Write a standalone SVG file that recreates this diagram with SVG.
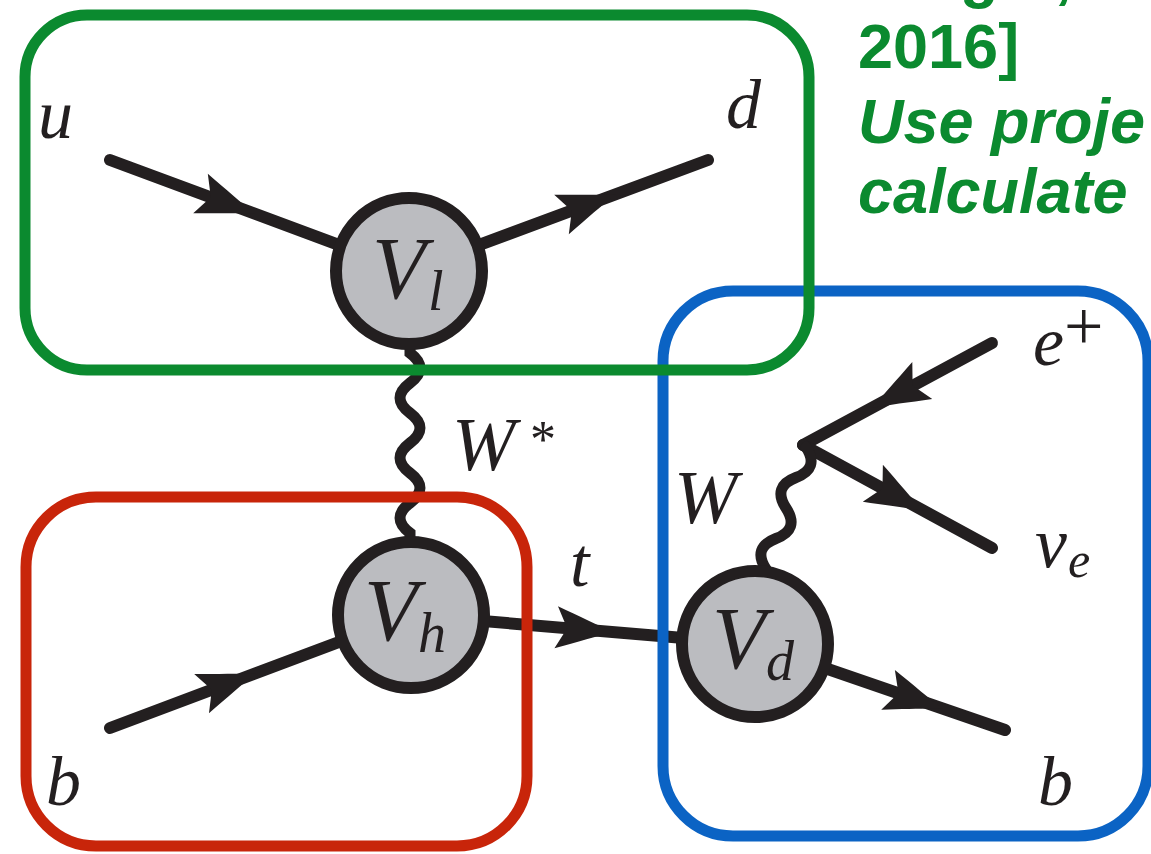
<svg xmlns="http://www.w3.org/2000/svg" xmlns:xlink="http://www.w3.org/1999/xlink" width="1151" height="854" viewBox="0 0 1151 854">
<style>
.fer{stroke:#231f20;stroke-width:12;stroke-linecap:round;fill:none}
.bos{stroke:#231f20;stroke-width:11;stroke-linecap:round;fill:none}
.vtx{fill:#bbbcc0;stroke:#231f20;stroke-width:12}
.ah{fill:#231f20}
.m{font-family:"Liberation Serif","DejaVu Serif",serif;font-style:italic;fill:#231f20}
.r{font-family:"Liberation Serif","DejaVu Serif",serif;fill:#231f20}
.box{fill:none;stroke-width:11}
.note{font-family:"Liberation Sans",Arial,sans-serif;font-weight:bold;font-size:63px;fill:#0b8a2f}
</style>
<defs>
<path id="arrow" d="M2,0 C-14,-5 -34,-13 -56,-21 L-45,0 L-56,21 C-34,13 -14,5 2,0 Z"/>
</defs>
<g id="connectors">
<line class="fer" x1="110" y1="160" x2="409" y2="271"/>
<line class="fer" x1="409" y1="271" x2="708" y2="160"/>
<line class="fer" x1="110" y1="728" x2="411" y2="615"/>
<line class="fer" x1="411" y1="615" x2="755" y2="644"/>
<line class="fer" x1="755" y1="644" x2="1005" y2="730"/>
<line class="fer" x1="992" y1="343" x2="803" y2="445"/>
<line class="fer" x1="803" y1="445" x2="992" y2="548"/>
<path class="bos" d="M410,345 L410,353 C423.3,363 423.3,373 410,383 C396.7,393 396.7,403 410,413 C423.3,423 423.3,433 410,443 C396.7,453 396.7,463 410,473 C423.3,483 423.3,493 410,503 C396.7,513 396.7,523 410,533 L410,542"/>
<path class="bos" d="M766,572 L766,569 C756.7,554.7 760.1,544.5 776,538.5 C791.9,532.5 795.3,522.3 786,508 C776.7,493.7 780.1,483.5 796,477.5 C811.9,471.5 815.3,461.3 806,447"/>
<use class="ah" xlink:href="#arrow" transform="translate(253,213) rotate(20.37)"/>
<use class="ah" xlink:href="#arrow" transform="translate(614,195) rotate(-20.37)"/>
<use class="ah" xlink:href="#arrow" transform="translate(254,674) rotate(-20.57)"/>
<use class="ah" xlink:href="#arrow" transform="translate(612,632) rotate(4.82)"/>
<use class="ah" xlink:href="#arrow" transform="translate(941,708) rotate(18.98)"/>
<use class="ah" xlink:href="#arrow" transform="translate(873,407) rotate(151.64)"/>
<use class="ah" xlink:href="#arrow" transform="translate(922,510) rotate(28.59)"/>
</g>
<g id="node-Vl">
<circle class="vtx" cx="409" cy="271" r="73"/>
<text class="m" x="372" y="298" font-size="88">V</text>
<text class="m" x="428" y="310" font-size="56">l</text>
</g>
<g id="node-Vh">
<circle class="vtx" cx="411" cy="615" r="73"/>
<text class="m" x="364" y="640" font-size="88">V</text>
<text class="m" x="418" y="652" font-size="56">h</text>
</g>
<g id="node-Vd">
<circle class="vtx" cx="755" cy="644" r="73"/>
<text class="m" x="712" y="668" font-size="88">V</text>
<text class="m" x="766" y="680" font-size="56">d</text>
</g>
<g id="label-u"><text class="m" x="38" y="138" font-size="70">u</text></g>
<g id="label-d"><text class="m" x="726" y="128" font-size="70">d</text></g>
<g id="label-b1"><text class="m" x="46" y="805" font-size="70">b</text></g>
<g id="label-b2"><text class="m" x="1038" y="805" font-size="70">b</text></g>
<g id="label-Wstar"><text class="m" x="452" y="470" font-size="76">W</text><text class="r" x="530" y="457" font-size="52">*</text></g>
<g id="label-W"><text class="m" x="674" y="523" font-size="76">W</text></g>
<g id="label-t"><text class="m" x="570" y="586" font-size="70">t</text></g>
<g id="label-e"><text class="m" x="1033" y="365" font-size="70">e</text><text class="r" x="1064" y="350" font-size="70">+</text></g>
<g id="label-nu"><text class="m" x="1035" y="567" font-size="72">ν</text><text class="m" x="1068" y="577" font-size="50">e</text></g>
<g id="boxes">
<rect class="box" x="663" y="291" width="485" height="545" rx="70" stroke="#0b63c4"/>
<rect class="box" x="25" y="15" width="784" height="355" rx="62" stroke="#0b8a2f"/>
<rect class="box" x="26" y="497" width="501" height="349" rx="70" stroke="#c8250a"/>
</g>
<g id="note">
<text class="note" x="960" y="-4">ger,</text>
<text class="note" x="858" y="68">2016]</text>
<text class="note" x="858" y="143" font-style="italic">Use proje</text>
<text class="note" x="858" y="213" font-style="italic">calculate</text>
</g>
</svg>
